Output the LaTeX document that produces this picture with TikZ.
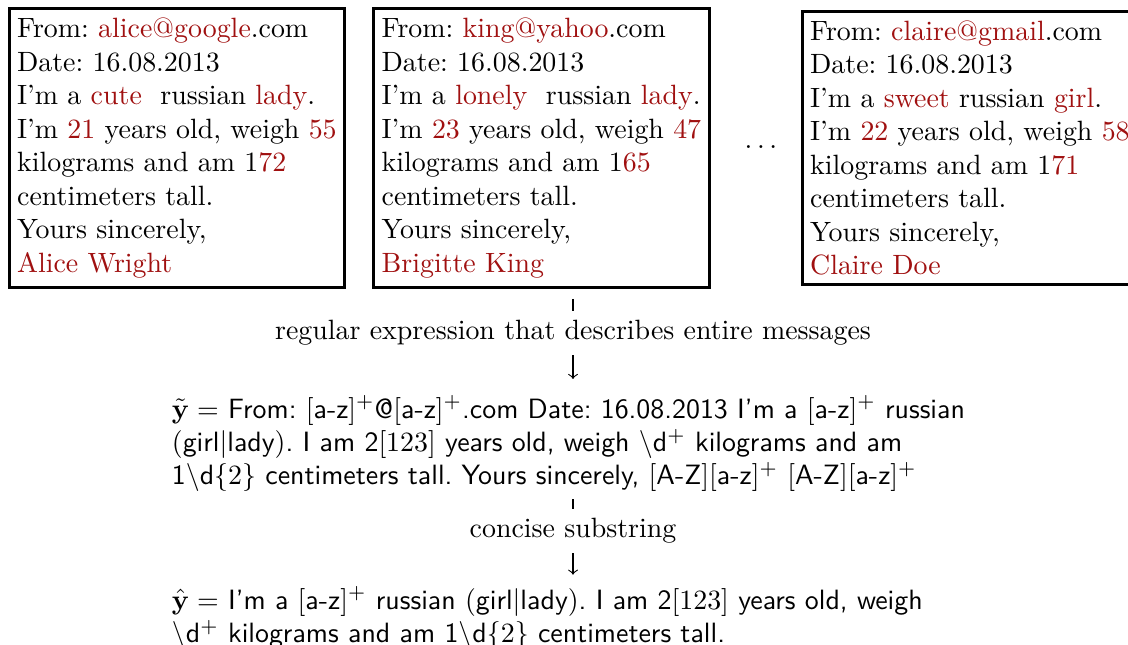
\documentclass[tikz,border=0pt]{standalone}
\usepackage{xcolor}
\definecolor{msgred}{RGB}{160,16,16}
\newcommand{\hl}[1]{\textcolor{msgred}{#1}}
\newcommand{\az}{$[$a-z$]^+$}
\newcommand{\AZ}{$[$A-Z$]$}
\tikzset{every picture/.style={line width=0.4pt}}
\frenchspacing

\begin{document}
\begin{tikzpicture}[x=0.3584pt,y=0.3584pt,yscale=-1,
  msg/.style={draw,line width=1pt,text width=114.6pt,align=left,inner xsep=2.8pt,inner ysep=3.33pt},
  rgx/.style={font=\sffamily,text width=287.5pt,align=left}]
\useasboundingbox (0,0) rectangle (1128,645);

% Messages
\node [msg] (alice) at (177,148) {From: \hl{alice@google}.com\\
Date: 16.08.2013\\
I'm a \hl{cute}\ \ russian \hl{lady}.\\
I'm \hl{21} years old, weigh \hl{55}\\
kilograms and am 1\hl{72}\\
centimeters tall.\\
Yours sincerely,\\
\hl{Alice Wright}};
\node [msg] (king) at (541.5,148) {From: \hl{king@yahoo}.com\\
Date: 16.08.2013\\
I'm a \hl{lonely}\ \ russian \hl{lady}.\\
I'm \hl{23} years old, weigh \hl{47}\\
kilograms and am 1\hl{65}\\
centimeters tall.\\
Yours sincerely,\\
\hl{Brigitte King}};
\node (dots) at (761,147) {$\ldots$};
\node [msg] (claire) at (970,148) {From: \hl{claire@gmail}.com\\
Date: 16.08.2013\\
I'm a \hl{sweet} russian \hl{girl}.\\
I'm \hl{22} years old, weigh \hl{58}\\
kilograms and am 1\hl{71}\\
centimeters tall.\\
Yours sincerely,\\
\hl{Claire Doe}};

% Regular expression
\coordinate (split) at (573,299);
\node (lab1) at (573,333) {regular expression that describes entire messages};
\node [rgx,anchor=base] (regex) at (573,418) {$\tilde{\mathbf{y}} =$ From: \az@\az.com Date: 16.08.2013 I'm a \az{} russian\\
$($girl$|$lady$)$. I am 2$[123]$ years old, weigh $\backslash$d$^+$ kilograms and am\\
1$\backslash$d$\{2\}$ centimeters tall. Yours sincerely, \AZ\az{} \AZ\az};
\draw (split) -- (lab1);
\draw [->,shorten >=2.5pt] (lab1) -- (regex);

% Concise substring
\node (lab2) at (573,531) {concise substring};
\node [rgx,anchor=base] (hat) at (573,609) {$\hat{\mathbf{y}} =$ I'm a \az{} russian $($girl$|$lady$)$. I am 2$[123]$ years old, weigh\\
$\backslash$d$^+$ kilograms and am 1$\backslash$d$\{2\}$ centimeters tall.};
\draw [shorten <=-1pt] (regex) -- (lab2);
\draw [->,shorten >=0.8pt] (lab2) -- (hat);

\end{tikzpicture}
\end{document}
